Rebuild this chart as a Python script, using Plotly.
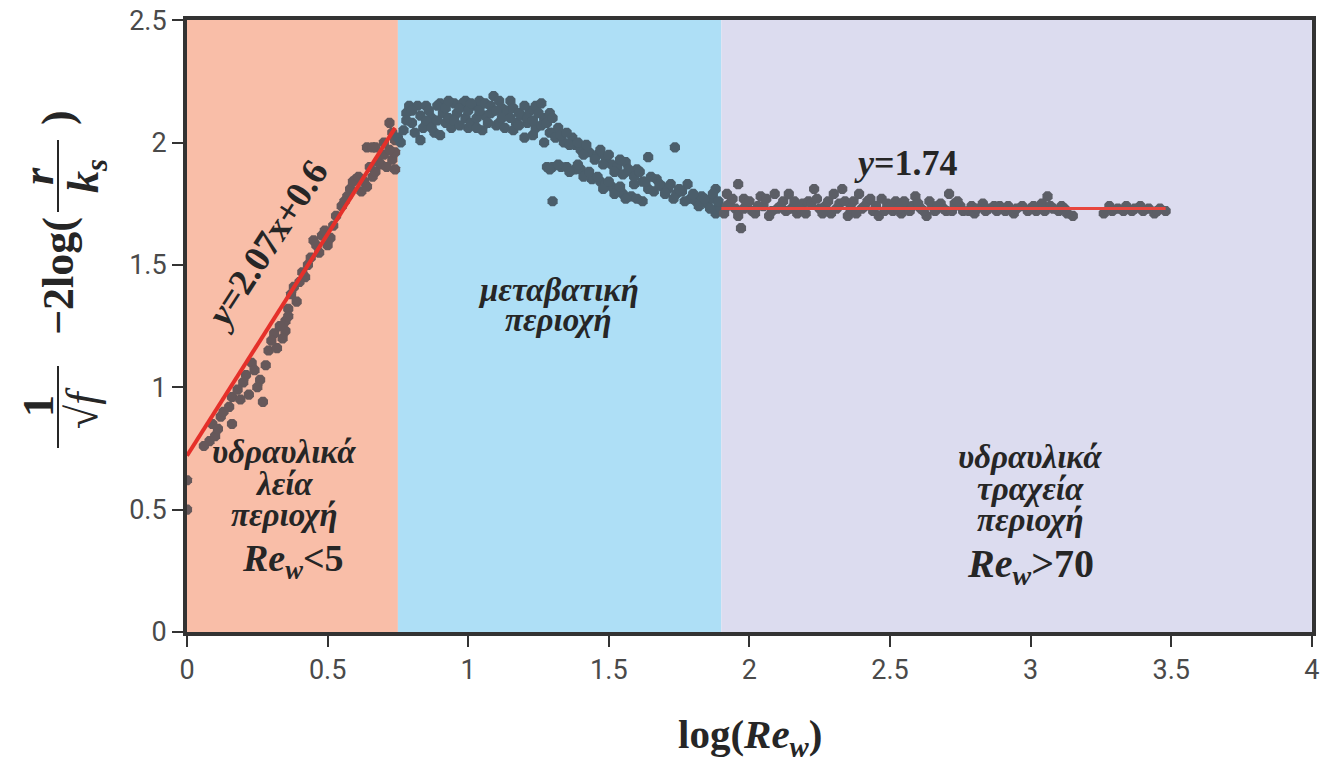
import plotly.graph_objects as go

# ---------------- data ----------------
smooth_x = [0.00, 0.00, 0.08, 0.10, 0.09, 0.12, 0.16, 0.16, 0.20, 0.22, 0.23, 0.26, 0.27, 0.28,
            0.29, 0.31, 0.32, 0.35, 0.35, 0.36, 0.37, 0.38, 0.39, 0.42, 0.43, 0.46, 0.47, 0.50,
            0.51, 0.52, 0.55, 0.57, 0.60, 0.62, 0.64, 0.64, 0.66, 0.67, 0.67, 0.69, 0.71, 0.72,
            0.73, 0.74, 0.74, 0.74,
            0.06, 0.11, 0.13, 0.15, 0.18, 0.19, 0.21, 0.24, 0.25, 0.30, 0.33, 0.34, 0.36, 0.40,
            0.41, 0.44, 0.45, 0.48, 0.49, 0.53, 0.56, 0.58, 0.59, 0.61, 0.63, 0.65, 0.66, 0.68,
            0.70, 0.72, 0.73, 0.70]
smooth_y = [0.62, 0.50, 0.78, 0.80, 0.85, 0.88, 0.85, 0.96, 1.02, 0.97, 1.10, 1.03, 0.94, 1.09,
            1.15, 1.22, 1.16, 1.23, 1.27, 1.32, 1.38, 1.41, 1.35, 1.45, 1.50, 1.58, 1.55, 1.58,
            1.61, 1.66, 1.74, 1.78, 1.85, 1.80, 1.82, 1.98, 1.86, 1.88, 1.98, 1.91, 1.90, 2.08,
            1.93, 1.89, 2.01, 1.96,
            0.76, 0.83, 0.90, 0.92, 0.99, 0.95, 1.05, 1.07, 1.00, 1.19, 1.25, 1.20, 1.29, 1.43,
            1.47, 1.53, 1.60, 1.62, 1.64, 1.70, 1.76, 1.81, 1.84, 1.86, 1.84, 1.90, 1.98, 1.92,
            1.95, 1.97, 2.04, 2.00]

trans_x = [0.75, 0.76, 0.78, 0.79, 0.80, 0.82, 0.83, 0.84, 0.85, 0.87, 0.88, 0.90, 0.91, 0.92,
           0.94, 0.95, 0.96, 0.98, 0.99, 1.00, 1.01, 1.02, 1.04, 1.05, 1.06, 1.08, 1.09, 1.10,
           1.11, 1.12, 1.14, 1.15, 1.16, 1.17, 1.19, 1.20, 1.21, 1.22, 1.24, 1.24, 1.26, 1.27,
           1.27, 1.29, 1.29, 1.30, 1.31, 1.34, 1.37, 1.38, 1.40, 1.43, 1.46, 1.49, 1.51, 1.53,
           1.56, 1.58, 1.60, 1.64, 1.59, 1.62, 1.64, 1.67, 1.69, 1.71, 1.74, 1.76, 1.78, 1.79,
           1.81, 1.83, 1.85, 1.87, 1.88, 1.88, 1.89,
           1.28, 1.30, 1.33, 1.35, 1.38, 1.40, 1.42, 1.44, 1.47, 1.49, 1.51, 1.53, 1.55, 1.58,
           1.62, 1.30, 1.735,
           0.77, 0.78, 0.80, 0.81, 0.83, 0.85, 0.86, 0.87, 0.89, 0.89, 0.90, 0.92, 0.93, 0.93,
           0.95, 0.97, 0.97, 0.99, 1.00, 1.01, 1.03, 1.03, 1.04, 1.06, 1.07, 1.08, 1.10, 1.11,
           1.12, 1.13, 1.15, 1.16, 1.18, 1.18, 1.20, 1.21, 1.23, 1.23, 1.25, 1.26, 1.28, 1.30,
           1.32, 1.33, 1.35, 1.36, 1.39, 1.41, 1.42, 1.45, 1.47, 1.48, 1.50, 1.52, 1.54, 1.55,
           1.57, 1.59, 1.61, 1.63, 1.65, 1.66, 1.68, 1.70, 1.72, 1.73, 1.75, 1.77, 1.80, 1.82,
           1.84, 1.86, 1.87, 1.89,
           1.29, 1.32, 1.36, 1.39, 1.41, 1.43, 1.46, 1.48, 1.50, 1.52, 1.54, 1.56, 1.60]
trans_y = [2.02, 2.00, 2.12, 2.15, 2.08, 2.15, 2.01, 2.06, 2.15, 2.10, 2.04, 2.16, 2.12, 2.08,
           2.06, 2.16, 2.12, 2.16, 2.10, 2.06, 2.08, 2.15, 2.17, 2.05, 2.11, 2.12, 2.19, 2.07,
           2.08, 2.14, 2.13, 2.17, 2.05, 2.08, 2.11, 2.02, 2.08, 2.13, 2.06, 2.15, 2.16, 2.00,
           2.10, 2.12, 2.04, 2.04, 2.02, 2.00, 2.02, 1.99, 1.97, 1.96, 1.95, 1.94, 1.91, 1.90,
           1.92, 1.88, 1.89, 1.94, 1.83, 1.84, 1.81, 1.85, 1.82, 1.81, 1.79, 1.80, 1.83, 1.77,
           1.76, 1.78, 1.75, 1.77, 1.81, 1.71, 1.74,
           1.90, 1.90, 1.90, 1.90, 1.89, 1.89, 1.87, 1.85, 1.84, 1.83, 1.82, 1.81, 1.79, 1.78,
           1.76, 1.76, 1.98,
           2.05, 2.09, 2.13, 2.04, 2.11, 2.09, 2.13, 2.06, 2.15, 2.09, 2.03, 2.14, 2.17, 2.10,
           2.09, 2.07, 2.14, 2.17, 2.13, 2.16, 2.10, 2.06, 2.13, 2.16, 2.08, 2.15, 2.13, 2.17,
           2.10, 2.06, 2.10, 2.14, 2.12, 2.07, 2.15, 2.10, 2.09, 2.03, 2.12, 2.07, 2.08, 2.10,
           2.06, 2.03, 2.04, 1.99, 2.00, 1.95, 1.99, 1.93, 1.97, 1.91, 1.95, 1.88, 1.93, 1.87,
           1.89, 1.86, 1.88, 1.84, 1.86, 1.80, 1.83, 1.79, 1.83, 1.77, 1.81, 1.76, 1.79, 1.74,
           1.77, 1.73, 1.79, 1.76,
           1.89, 1.91, 1.88, 1.91, 1.86, 1.88, 1.86, 1.81, 1.84, 1.79, 1.82, 1.77, 1.77]

rough_x = [1.91, 1.92, 1.93, 1.95, 1.96, 1.97, 1.98, 1.99, 2.01, 2.02, 2.04, 2.05, 2.07, 2.09,
           2.10, 2.12, 2.14, 2.15, 2.17, 2.19, 2.21, 2.23, 2.25, 2.27, 2.29, 2.30, 2.32, 2.33,
           2.35, 2.37, 2.39, 2.40, 2.42, 2.44, 2.46, 2.47, 2.49, 2.51, 2.52, 2.54, 2.56, 2.59,
           2.61, 2.63, 2.65, 2.68, 2.70, 2.71, 2.73, 2.75, 2.78, 2.80, 2.83, 2.85, 2.89, 2.91,
           2.94, 2.97, 3.00, 3.02, 3.04, 3.06, 3.07, 3.10, 3.12, 3.15, 3.26, 3.28, 3.31, 3.34,
           3.36, 3.39, 3.42, 3.44, 3.46, 3.48,
           1.92, 1.94, 1.96, 1.98, 2.00, 2.03, 2.06, 2.08, 2.11, 2.13, 2.16, 2.18, 2.20, 2.22,
           2.24, 2.26, 2.28, 2.31, 2.34, 2.36, 2.38, 2.41, 2.43, 2.45, 2.48, 2.50, 2.53, 2.55,
           2.57, 2.58, 2.60, 2.62, 2.64, 2.66, 2.67, 2.69, 2.72, 2.74, 2.76, 2.79, 2.81, 2.84,
           2.87, 2.88, 2.92, 2.95, 2.99, 3.01, 3.05, 3.08, 3.11, 3.13, 3.29, 3.33, 3.37, 3.40,
           3.45]
rough_y = [1.71, 1.79, 1.75, 1.73, 1.83, 1.65, 1.77, 1.75, 1.72, 1.71, 1.78, 1.74, 1.70, 1.79,
           1.73, 1.76, 1.79, 1.73, 1.71, 1.75, 1.76, 1.81, 1.73, 1.74, 1.71, 1.79, 1.75, 1.81,
           1.70, 1.76, 1.79, 1.73, 1.76, 1.72, 1.70, 1.77, 1.75, 1.72, 1.76, 1.71, 1.74, 1.78,
           1.73, 1.70, 1.74, 1.75, 1.72, 1.79, 1.75, 1.74, 1.72, 1.71, 1.75, 1.73, 1.74, 1.72,
           1.71, 1.74, 1.73, 1.72, 1.75, 1.78, 1.74, 1.72, 1.73, 1.70, 1.71, 1.74, 1.73, 1.74,
           1.72, 1.74, 1.73, 1.71, 1.73, 1.72,
           1.74, 1.77, 1.70, 1.73, 1.76, 1.74, 1.77, 1.72, 1.74, 1.72, 1.76, 1.73, 1.71, 1.75,
           1.77, 1.71, 1.76, 1.73, 1.76, 1.73, 1.71, 1.74, 1.77, 1.74, 1.72, 1.74, 1.73, 1.76,
           1.72, 1.74, 1.75, 1.72, 1.76, 1.72, 1.74, 1.73, 1.72, 1.76, 1.72, 1.74, 1.73, 1.72,
           1.74, 1.72, 1.74, 1.73, 1.72, 1.74, 1.72, 1.73, 1.74, 1.71, 1.72, 1.72, 1.73, 1.72,
           1.72]

fit_smooth_x = [0.0, 0.74]
fit_smooth_y = [0.72, 2.06]
fit_rough_x = [1.9, 3.48]
fit_rough_y = [1.73, 1.73]

region_edges = [0.0, 0.75, 1.9, 4.0]
region_colors = ["#F9BEA8", "#AEDFF6", "#DCDCEF"]
marker_colors = ["#66585a", "#4b5e6b", "#5c5e66"]

x_ticks = [0, 0.5, 1, 1.5, 2, 2.5, 3, 3.5, 4]
x_tick_labels = ["0", "0.5", "1", "1.5", "2", "2.5", "3", "3.5", "4"]
y_ticks = [0, 0.5, 1, 1.5, 2, 2.5]
y_tick_labels = ["0", "0.5", "1", "1.5", "2", "2.5"]

# ---------------- layout geometry ----------------
OFF = 8                      # page body margin
W, H = 1320, 760
L, R, T, B = 179, 16, 12, 136
PW, PH = W - L - R, H - T - B


def pxp(page_x):
    return (page_x - OFF - L) / PW


def pyp(page_y):
    return (H - B - (page_y - OFF)) / PH


fig = go.Figure()

# region backgrounds
for i in range(3):
    x0, x1 = region_edges[i], region_edges[i + 1]
    fig.add_trace(go.Scatter(x=[x0, x1, x1, x0, x0], y=[0, 0, 2.5, 2.5, 0], mode="lines",
                             fill="toself", fillcolor=region_colors[i],
                             line=dict(width=0), hoverinfo="skip", showlegend=False))

# data points
for (xs, ys, c) in [(smooth_x, smooth_y, marker_colors[0]),
                    (trans_x, trans_y, marker_colors[1]),
                    (rough_x, rough_y, marker_colors[2])]:
    fig.add_trace(go.Scatter(x=xs, y=ys, mode="markers",
                             marker=dict(symbol="octagon", size=11, color=c, line=dict(width=0)),
                             showlegend=False))

# fitted lines
fig.add_trace(go.Scatter(x=fit_smooth_x, y=fit_smooth_y, mode="lines",
                         line=dict(color="#E5302A", width=4), showlegend=False))
fig.add_trace(go.Scatter(x=fit_rough_x, y=fit_rough_y, mode="lines",
                         line=dict(color="#E8463E", width=3), showlegend=False))

SERIF = "Liberation Serif, Times New Roman, serif"
TXT = "#262626"

ann = []


def add_text(text, xp, yp, size, angle=0, color=TXT):
    ann.append(dict(text=text, x=pxp(xp), y=pyp(yp), xref="paper", yref="paper",
                    showarrow=False, textangle=angle, xanchor="center", yanchor="middle",
                    font=dict(family=SERIF, size=size, color=color)))


# equations
add_text("<b><i>y</i>=2.07x+0.6</b>", 266, 244, 37, angle=-57)
add_text("<b><i>y</i>=1.74</b>", 906, 163, 36)

# region labels
add_text("<b><i>υδραυλικά</i></b>", 284, 452, 33)
add_text("<b><i>λεία</i></b>", 284, 484, 33)
add_text("<b><i>περιοχή</i></b>", 284, 515, 33)
add_text("<b><i>Re</i><sub><i>w</i></sub>&lt;5</b>", 293, 561, 38)

add_text("<b><i>μεταβατική</i></b>", 558, 290, 33)
add_text("<b><i>περιοχή</i></b>", 558, 320, 33)

add_text("<b><i>υδραυλικά</i></b>", 1030, 457, 33)
add_text("<b><i>τραχεία</i></b>", 1030, 489, 33)
add_text("<b><i>περιοχή</i></b>", 1030, 520, 33)
add_text("<b><i>Re</i><sub><i>w</i></sub>&gt;70</b>", 1030, 566, 40)

# x axis title
add_text("<b>log(<i>Re</i><sub><i>w</i></sub>)</b>", 750, 737, 41)

# y axis title (built from pieces, rotated)
add_text("<b>1</b>", 38, 406, 44, angle=-90)
add_text("√<i>f</i>", 82, 408, 44, angle=-90)
add_text("<b>−2log(</b>", 58, 276, 44, angle=-90)
add_text("<b><i>r</i></b>", 38, 176, 44, angle=-90)
add_text("<b><i>k</i><sub><i>s</i></sub></b>", 86, 176, 44, angle=-90)
add_text("<b>)</b>", 58, 118, 44, angle=-90)

shapes = [
    dict(type="line", xref="paper", yref="paper", x0=pxp(58), x1=pxp(58), y0=pyp(366), y1=pyp(448),
         line=dict(color=TXT, width=2)),
    dict(type="line", xref="paper", yref="paper", x0=pxp(58), x1=pxp(58), y0=pyp(140), y1=pyp(212),
         line=dict(color=TXT, width=2)),
]

axis_common = dict(showgrid=False, zeroline=False, showline=True, mirror=True,
                   linecolor="#333333", linewidth=4, ticks="outside", ticklen=11,
                   tickwidth=2, tickcolor="#333333", ticklabeloverflow="allow",
                   tickfont=dict(family="Roboto, Liberation Sans, sans-serif", size=27, color="#4a4a4a"))

fig.update_layout(
    width=W, height=H,
    margin=dict(l=L, r=R, t=T, b=B, autoexpand=False),
    paper_bgcolor="white", plot_bgcolor="white",
    showlegend=False,
    xaxis=dict(range=[0, 4.0005], tickvals=x_ticks, ticktext=x_tick_labels, **axis_common),
    yaxis=dict(range=[0, 2.5005], tickvals=y_ticks, ticktext=y_tick_labels, **axis_common),
    annotations=ann,
    shapes=shapes,
)

fig.write_html("out.html")
